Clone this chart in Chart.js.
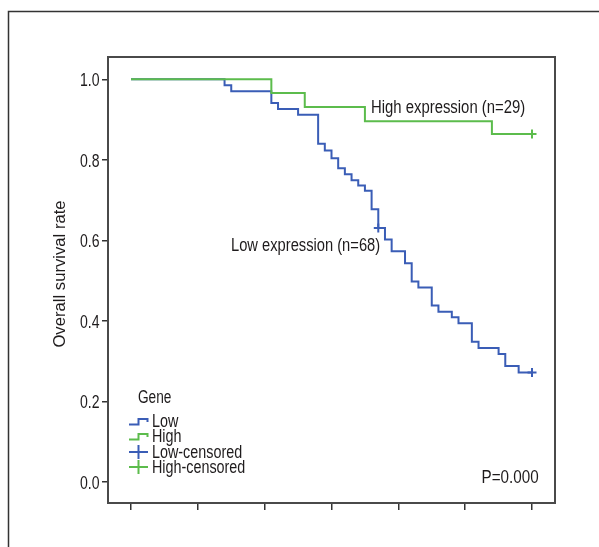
<!DOCTYPE html>
<html>
<head>
<meta charset="utf-8">
<script src="https://cdn.jsdelivr.net/npm/chart.js@4.4.1/dist/chart.umd.min.js"></script>
<style>
html,body{margin:0;padding:0;background:#fff;}
#wrap{width:599px;height:547px;position:relative;}
</style>
</head>
<body>
<div id="wrap"><canvas id="c" width="599" height="547"></canvas></div>
<script>
// Time (months) and survival values
const lowTimes = [0, 14, 15, 21, 22, 25, 28, 29, 30, 31, 32, 33, 34, 35, 36, 37, 38, 39, 41, 42, 43, 45, 46, 48, 49, 51, 52, 55, 56, 58, 60];
const lowSurv  = [1.0, 0.985, 0.970, 0.941, 0.926, 0.912, 0.840, 0.823, 0.804, 0.779, 0.764, 0.749, 0.736, 0.723, 0.677, 0.631, 0.602, 0.573, 0.543, 0.498, 0.483, 0.438, 0.423, 0.409, 0.394, 0.348, 0.333, 0.318, 0.288, 0.272, 0.272];
const highTimes = [0, 21, 26, 35, 54, 60];
const highSurv  = [1.0, 0.966, 0.931, 0.896, 0.864, 0.864];
const lowCensTimes = [37, 60];
const lowCensSurv  = [0.631, 0.272];
const highCensTimes = [60];
const highCensSurv  = [0.864];
const yTickValues = [0.0, 0.2, 0.4, 0.6, 0.8, 1.0];
const xTickValues = [0, 10, 20, 30, 40, 50, 60];
const legendLabels = ['Low', 'High', 'Low-censored', 'High-censored'];
const legendTitle = 'Gene';
const yTitle = 'Overall survival rate';
const highLabel = 'High expression (n=29)';
const lowLabel = 'Low expression (n=68)';
const pLabel = 'P=0.000';

const BLUE = '#3a5db6';
const GREEN = '#5cbc4c';
const FONT = '"Liberation Sans", Arial, sans-serif';
const TEXT = '#1e1b1c';
const SX = 0.82; // horizontal squeeze to imitate the condensed face

const pts = (xs, ys) => xs.map((x, i) => ({x: x, y: ys[i]}));

function narrowText(ctx, text, x, y, size, align, sx) {
  ctx.save();
  ctx.font = size + 'px ' + FONT;
  ctx.textAlign = align || 'left';
  ctx.textBaseline = 'alphabetic';
  ctx.translate(x, y);
  ctx.scale(sx || SX, 1);
  ctx.fillText(text, 0, 0);
  ctx.restore();
}

const deco = {
  id: 'deco',
  afterDraw(chart) {
    const ctx = chart.ctx, a = chart.chartArea;
    const ys = chart.scales.y;
    ctx.save();
    // outer frame
    ctx.strokeStyle = '#333';
    ctx.lineWidth = 1.5;
    ctx.beginPath();
    ctx.moveTo(8.5, 547); ctx.lineTo(8.5, 11.5); ctx.lineTo(599, 11.5);
    ctx.stroke();
    // plot box
    ctx.strokeStyle = '#4a4a4a';
    ctx.lineWidth = 2;
    ctx.strokeRect(a.left, a.top, a.right - a.left, a.bottom - a.top);
    ctx.fillStyle = TEXT;
    // y tick labels
    yTickValues.forEach(v => {
      narrowText(ctx, v.toFixed(1), 99.5, ys.getPixelForValue(v) + 7, 18.5, 'right', 0.76);
    });
    // annotations
    narrowText(ctx, highLabel, 371, 112.5, 17.5, 'left', 0.85);
    narrowText(ctx, lowLabel, 231, 251, 17.5, 'left', 0.84);
    narrowText(ctx, pLabel, 481.5, 483, 17.5, 'left', 0.87);
    // y title
    ctx.save();
    ctx.translate(65, (a.top + a.bottom) / 2 - 6);
    ctx.rotate(-Math.PI / 2);
    narrowText(ctx, yTitle, 0, 0, 17, 'center', 0.98);
    ctx.restore();
    // legend
    narrowText(ctx, legendTitle, 138, 403, 17.5, 'left', 0.78);
    const rows = [427, 442, 458, 473];
    const cols = [BLUE, GREEN, BLUE, GREEN];
    rows.forEach((by, i) => {
      ctx.fillStyle = TEXT;
      narrowText(ctx, legendLabels[i], 152, by, 17.5, 'left', 0.82);
      const cy = by - 6;
      ctx.strokeStyle = cols[i];
      ctx.lineWidth = 2;
      ctx.beginPath();
      if (i < 2) {
        ctx.moveTo(129, cy + 3.5); ctx.lineTo(138.5, cy + 3.5); ctx.lineTo(138.5, cy - 2);
        ctx.lineTo(147.5, cy - 2); ctx.lineTo(147.5, cy + 1);
      } else {
        ctx.moveTo(129, cy); ctx.lineTo(148, cy);
        ctx.moveTo(138.5, cy - 7); ctx.lineTo(138.5, cy + 7);
      }
      ctx.stroke();
    });
    ctx.restore();
  }
};

new Chart(document.getElementById('c'), {
  type: 'line',
  data: {
    datasets: [
      {label: 'High', data: pts(highTimes, highSurv), borderColor: GREEN, borderWidth: 2, stepped: true, pointRadius: 0, fill: false},
      {label: 'Low', data: pts(lowTimes, lowSurv), borderColor: BLUE, borderWidth: 2, stepped: true, pointRadius: 0, fill: false},
      {type: 'scatter', label: 'High-censored', data: pts(highCensTimes, highCensSurv), borderColor: GREEN, backgroundColor: GREEN, pointStyle: 'cross', pointRadius: 4.5, borderWidth: 2, showLine: false},
      {type: 'scatter', label: 'Low-censored', data: pts(lowCensTimes, lowCensSurv), borderColor: BLUE, backgroundColor: BLUE, pointStyle: 'cross', pointRadius: 4.5, borderWidth: 2, showLine: false}
    ]
  },
  options: {
    responsive: false,
    animation: false,
    layout: {padding: {top: 57, right: 44, left: 0, bottom: 0}},
    plugins: {legend: {display: false}, tooltip: {enabled: false}},
    scales: {
      x: {
        type: 'linear', min: -3.44, max: 63.44,
        afterBuildTicks: s => { s.ticks = xTickValues.map(v => ({value: v})); },
        afterFit: s => { s.height = 44; },
        ticks: {display: false},
        grid: {drawOnChartArea: false, drawTicks: true, tickLength: 7, color: '#333', lineWidth: 1.5},
        border: {display: false}
      },
      y: {
        type: 'linear', min: -0.0521, max: 1.0553,
        afterBuildTicks: s => { s.ticks = yTickValues.map(v => ({value: v})); },
        afterFit: s => { s.width = 108; },
        ticks: {display: false},
        grid: {drawOnChartArea: false, drawTicks: true, tickLength: 6, color: '#333', lineWidth: 1.5},
        border: {display: false}
      }
    }
  },
  plugins: [deco]
});
</script>
</body>
</html>
